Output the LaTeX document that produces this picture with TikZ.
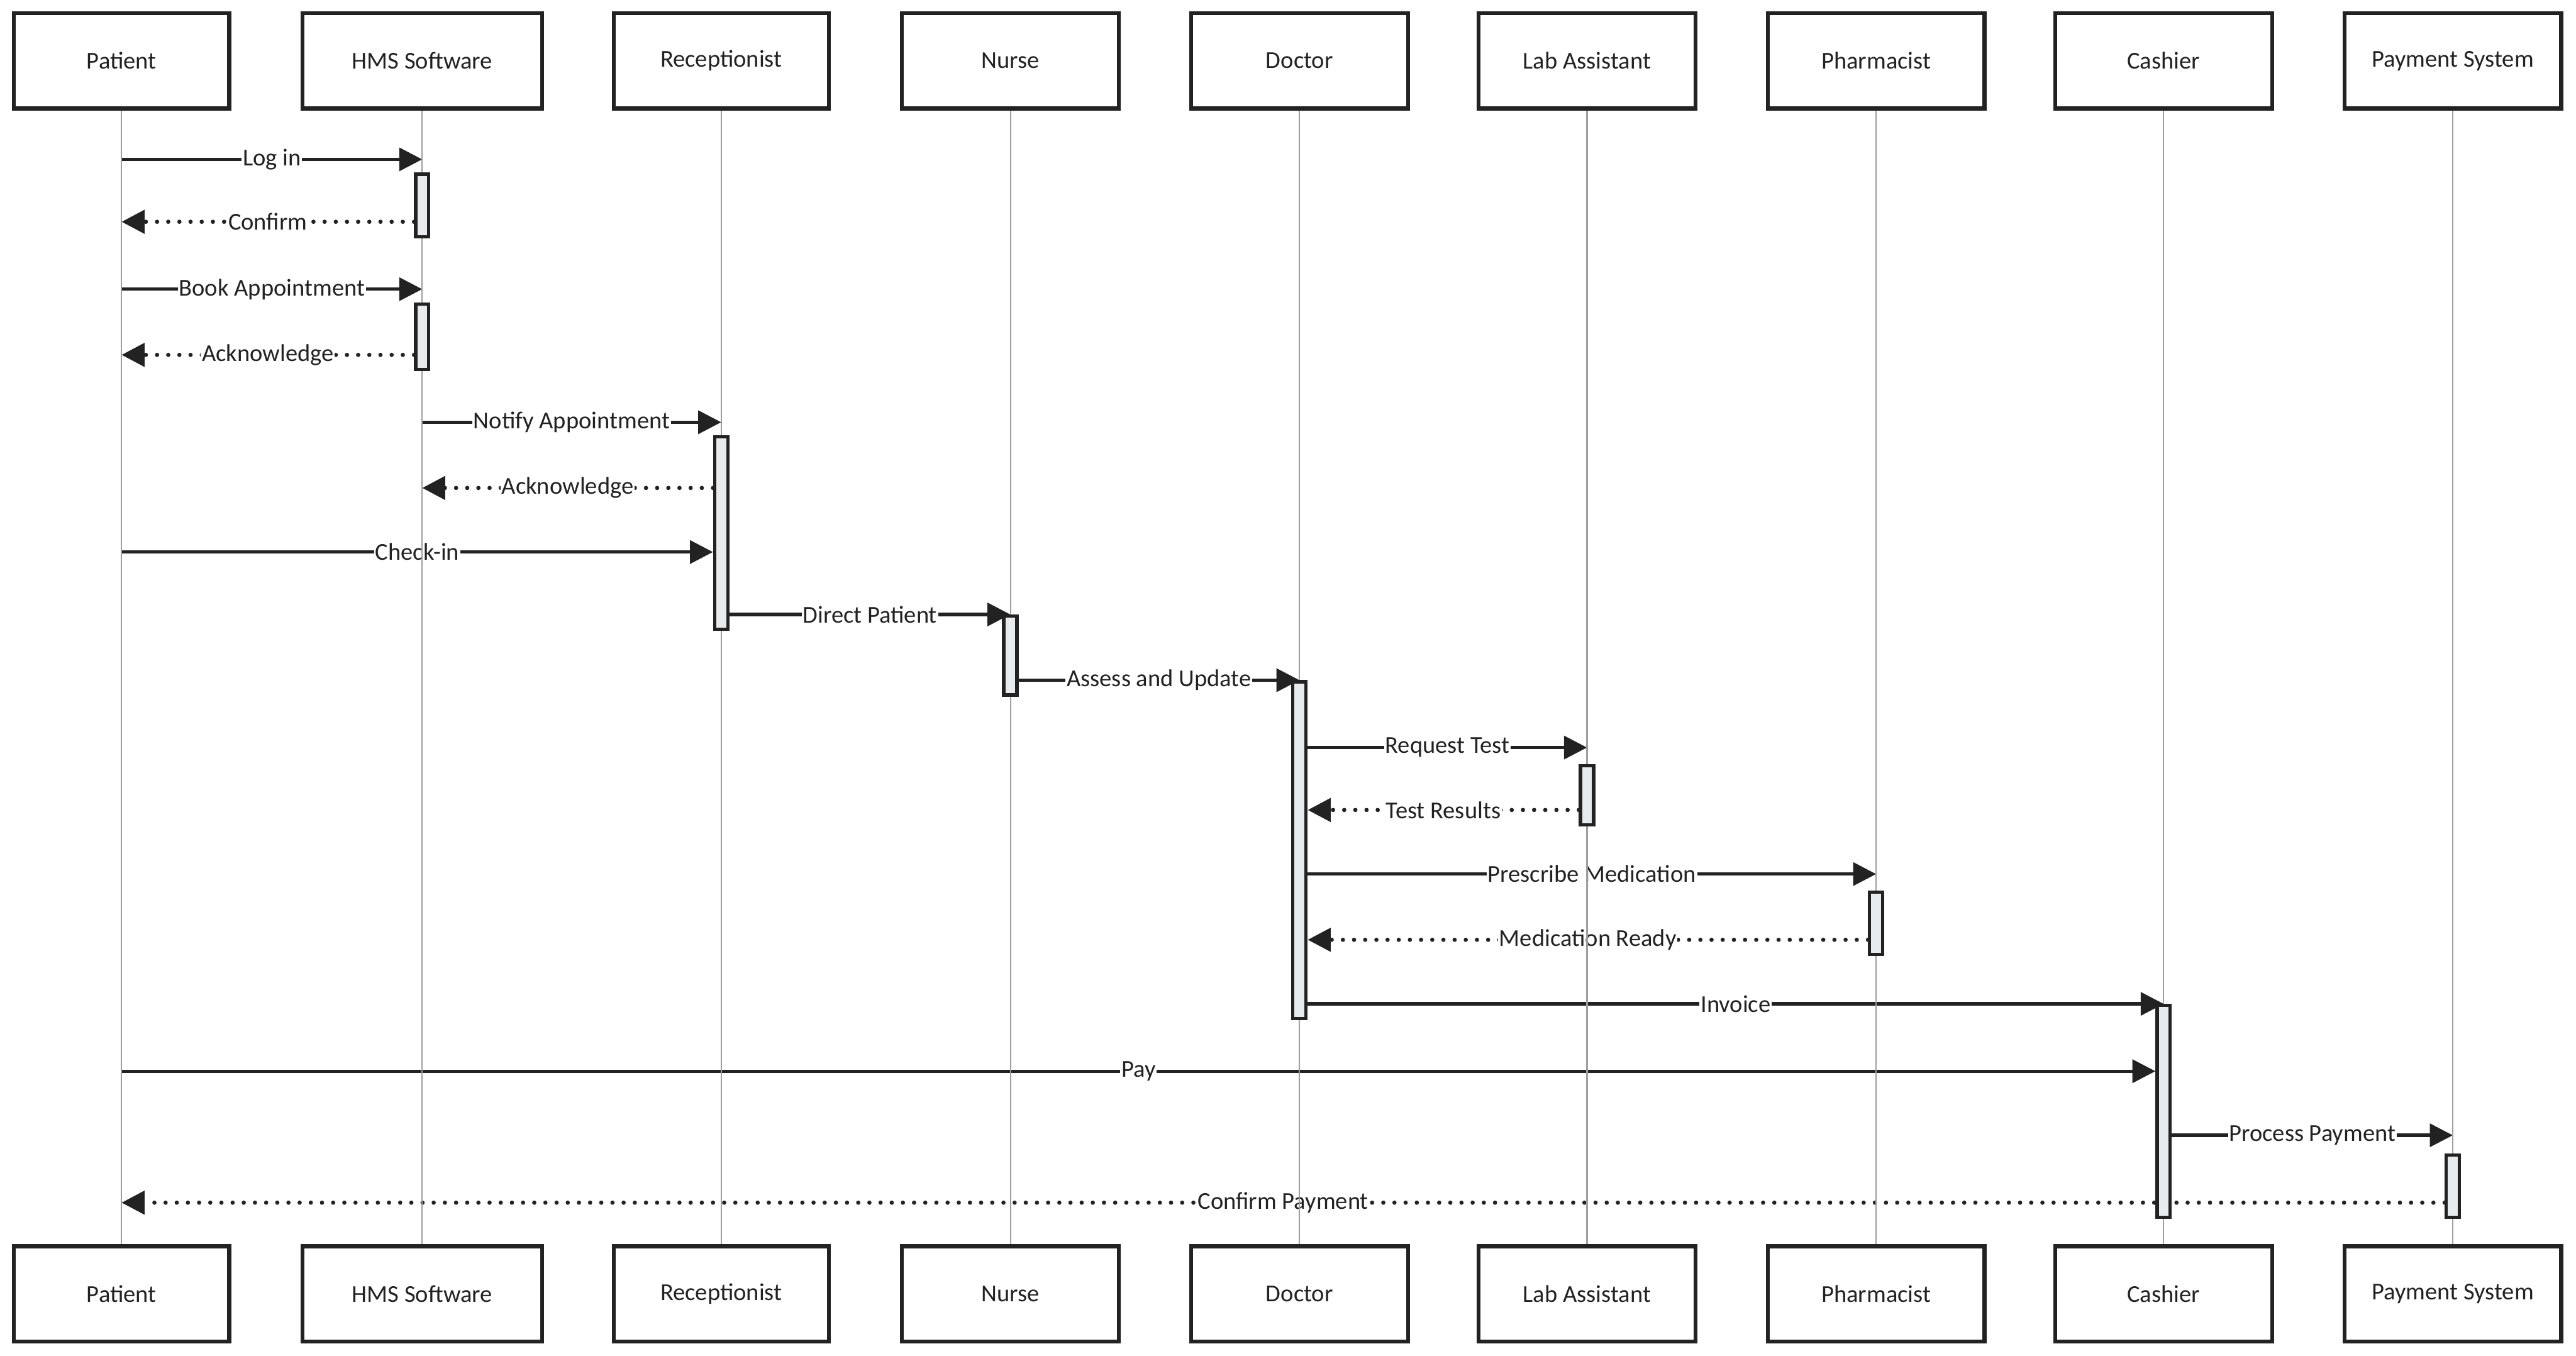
\documentclass[tikz,border=0pt]{standalone}
\usepackage{fontspec}
\setmainfont{Carlito}
\usetikzlibrary{arrows.meta}
\definecolor{inkDark}{HTML}{222222}
\definecolor{barFill}{HTML}{E8EBEE}
\definecolor{lifeGray}{HTML}{9E9E9E}
\newcommand{\pxu}{0.5mm}
\pgfdeclarelayer{life}
\pgfdeclarelayer{acts}
\pgfsetlayers{main,life,acts}

\begin{document}
\begin{tikzpicture}[x=\pxu, y=-\pxu,
    font=\fontsize{21}{25}\selectfont,
    actor/.style={draw=inkDark, line width=1.2mm, fill=white, minimum height=58*\pxu, text=inkDark},
    actbar/.style={draw=inkDark, line width=1mm, fill=barFill, minimum width=8*\pxu, inner sep=0pt},
    lifeline/.style={draw=lifeGray, line width=0.4mm},
    msg/.style={draw=inkDark, line width=1mm, -{Triangle[length=7mm, width=7mm]}},
    reply/.style={msg, line cap=round, line width=1.3mm, dash pattern=on 0pt off 3.4mm},
    lbl/.style={fill=white, inner sep=1pt, text=inkDark}]
    \useasboundingbox (0,0) rectangle (1568,825);

    % participants, top and bottom
    \foreach \n/\x/\w/\t in {pat/74/131/Patient, hms/257/146/HMS Software, rec/439/131/Receptionist,
        nur/615/132/Nurse, doc/791/132/Doctor, lab/966/132/Lab Assistant, pha/1142/132/Pharmacist,
        cas/1317/132/Cashier, pay/1493/132/Payment System} {
        \node[actor, minimum width=\w*\pxu] (top-\n) at (\x,37) {\t};
        \node[actor, minimum width=\w*\pxu] (bot-\n) at (\x,787.5) {\t};
        \begin{pgfonlayer}{life}
            \draw[lifeline] (top-\n) -- (bot-\n);
        \end{pgfonlayer}
    }

    % activation bars
    \begin{pgfonlayer}{acts}
    \foreach \n/\who/\y/\h in {hms1/hms/125/38, hms2/hms/205/40, rec/rec/324.5/117, nur/nur/399/48,
        doc/doc/517.5/205, lab/lab/484/36, pha/pha/562/38, cas/cas/676.5/129, pay/pay/722/38}
        \node[actbar, minimum height=\h*\pxu] (act-\n) at (top-\who |- 0,\y) {};
    \end{pgfonlayer}

    % messages
    \draw[msg] (top-pat |- 0,97) -- (top-hms |- 0,97) node[lbl, midway] {Log in};
    \draw[reply] (act-hms1.west |- 0,135) -- (top-pat |- 0,135) node[lbl, midway] {Confirm};
    \draw[msg] (top-pat |- 0,176) -- (top-hms |- 0,176) node[lbl, midway] {Book Appointment};
    \draw[reply] (act-hms2.west |- 0,216) -- (top-pat |- 0,216) node[lbl, midway] {Acknowledge};
    \draw[msg] (top-hms |- 0,257) -- (top-rec |- 0,257) node[lbl, midway] {Notify Appointment};
    \draw[reply] (act-rec.west |- 0,297) -- (top-hms |- 0,297) node[lbl, midway] {Acknowledge};
    \draw[msg] (top-pat |- 0,336) -- (act-rec.west |- 0,336) node[lbl, midway] {Check-in};
    \draw[msg] (act-rec.east |- 0,374) -- (top-nur |- 0,374) node[lbl, midway] {Direct Patient};
    \draw[msg] (act-nur.east |- 0,414) -- (top-doc |- 0,414) node[lbl, midway] {Assess and Update};
    \draw[msg] (act-doc.east |- 0,455) -- (top-lab |- 0,455) node[lbl, midway] {Request Test};
    \draw[reply] (act-lab.west |- 0,493) -- (act-doc.east |- 0,493) node[lbl, midway] {Test Results};
    \draw[msg] (act-doc.east |- 0,532) -- (top-pha |- 0,532) node[lbl, midway] {Prescribe Medication};
    \draw[reply] (act-pha.west |- 0,572) -- (act-doc.east |- 0,572) node[lbl, midway] {Medication Ready};
    \draw[msg] (act-doc.east |- 0,611) -- (top-cas |- 0,611) node[lbl, midway] {Invoice};
    \draw[msg] (top-pat |- 0,652) -- (act-cas.west |- 0,652) node[lbl, midway] {Pay};
    \draw[msg] (act-cas.east |- 0,691) -- (top-pay |- 0,691) node[lbl, midway] {Process Payment};
    \draw[reply] (act-pay.west |- 0,732) -- (top-pat |- 0,732) node[lbl, midway] {Confirm Payment};
\end{tikzpicture}
\end{document}
